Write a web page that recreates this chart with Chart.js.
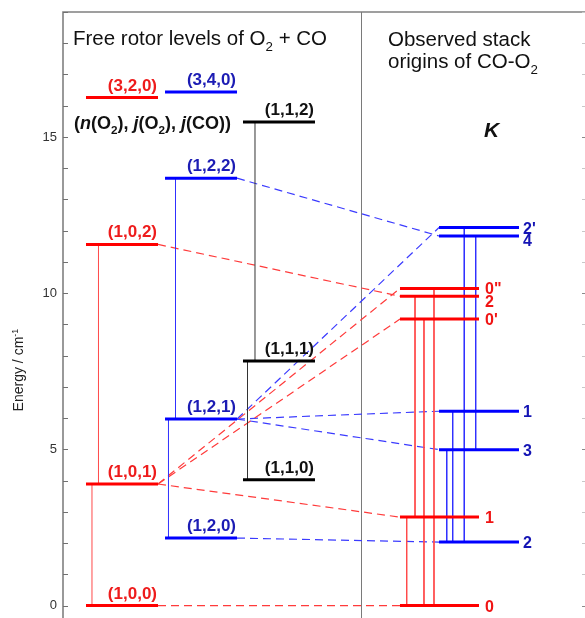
<!DOCTYPE html>
<html>
<head>
<meta charset="utf-8">
<script src="https://cdn.jsdelivr.net/npm/chart.js@4/dist/chart.umd.min.js"></script>
<style>
html, body { margin: 0; padding: 0; background: #fff; overflow: hidden; }
#wrap { width: 590px; height: 640px; }
</style>
</head>
<body>
<div id="wrap"><canvas id="chart" width="590" height="640"></canvas></div>
<script>
// free rotor levels (n(O2), j(O2), j(CO)), energies in cm-1
const redFreeLabels = ['(1,0,0)', '(1,0,1)', '(1,0,2)', '(3,2,0)'];
const redFreeEnergy = [0, 3.89, 11.56, 16.26];
const blueFreeLabels = ['(1,2,0)', '(1,2,1)', '(1,2,2)', '(3,4,0)'];
const blueFreeEnergy = [2.16, 5.97, 13.68, 16.44];
const blackFreeLabels = ['(1,1,0)', '(1,1,1)', '(1,1,2)'];
const blackFreeEnergy = [4.03, 7.83, 15.48];

// observed stack origins of CO-O2, labelled by K
const redStackLabels = ['0', '1', "0'", '2', '0"'];
const redStackEnergy = [0, 2.83, 9.17, 9.90, 10.15];
const blueStackLabels = ['2', '3', '1', '4', "2'"];
const blueStackEnergy = [2.03, 4.99, 6.22, 11.83, 12.10];

// thin vertical connections inside each column
const redFreeLinks = [['(1,0,0)', '(1,0,1)'], ['(1,0,1)', '(1,0,2)']];
const blueFreeLinks = [['(1,2,0)', '(1,2,1)'], ['(1,2,1)', '(1,2,2)']];
const blackFreeLinks = [['(1,1,0)', '(1,1,1)'], ['(1,1,1)', '(1,1,2)']];
const redStackLinks = [['1', '0'], ['2', '1'], ["0'", '0'], ['0"', '0']];
const blueStackLinks = [['3', '2'], ['1', '2'], ["2'", '2'], ['4', '3']];

// dashed correlations free rotor -> stack
const redCorrelations = [['(1,0,0)', '0'], ['(1,0,1)', '1'], ['(1,0,1)', "0'"], ['(1,0,1)', '0"'], ['(1,0,2)', '2']];
const blueCorrelations = [['(1,2,0)', '2'], ['(1,2,1)', '3'], ['(1,2,1)', '1'], ['(1,2,1)', "2'"], ['(1,2,2)', '4']];

// layout, x axis runs 0..100
const columnX = {
    redFree: [4.39, 18.13], blueFree: [19.47, 33.21], blackFree: [34.35, 48.09],
    redStack: [64.31, 79.39], blueStack: [71.76, 87.02]
};
const linkX = {
    redFree: [5.53, 6.77], blueFree: [20.13, 21.47], blackFree: [35.21, 36.64],
    redStack: [65.59, 67.18, 68.89, 70.80], blueStack: [73.23, 74.37, 76.58, 78.76]
};
const dividerX = 56.87;
const FONT = '"Liberation Sans", Arial, Helvetica, sans-serif';

const groups = [
    { key: 'redFree', labels: redFreeLabels, energy: redFreeEnergy, links: redFreeLinks, line: '#ff0000', thin: '#ff4a4a', text: '#ee1c1c', stack: false },
    { key: 'blueFree', labels: blueFreeLabels, energy: blueFreeEnergy, links: blueFreeLinks, line: '#0000ff', thin: '#3030ff', text: '#1c1cb4', stack: false },
    { key: 'blackFree', labels: blackFreeLabels, energy: blackFreeEnergy, links: blackFreeLinks, line: '#000000', thin: '#333333', text: '#111111', stack: false },
    { key: 'redStack', labels: redStackLabels, energy: redStackEnergy, links: redStackLinks, line: '#ff0000', thin: '#ff4a4a', text: '#f01414', stack: true, gap: 6 },
    { key: 'blueStack', labels: blueStackLabels, energy: blueStackEnergy, links: blueStackLinks, line: '#0000ff', thin: '#3030ff', text: '#1414b4', stack: true, gap: 4 }
];

function energyOf(g, label) {
    return g.energy[g.labels.indexOf(label)];
}

function seg(data, color, width, dash, order) {
    return {
        data: data, showLine: true, borderColor: color, borderWidth: width,
        borderDash: dash || [], pointRadius: 0, fill: false, tension: 0,
        borderCapStyle: 'butt', order: order
    };
}

let datasets = [];
for (let g of groups) {
    let [x0, x1] = columnX[g.key];
    g.energy.forEach(e => datasets.push(seg([{ x: x0, y: e }, { x: x1, y: e }], g.line, 3, null, 0)));
    g.links.forEach((l, i) => {
        let x = linkX[g.key][i];
        datasets.push(seg([{ x: x, y: energyOf(g, l[0]) }, { x: x, y: energyOf(g, l[1]) }], g.thin, 1, null, 1));
    });
}
function addCorrelations(list, from, to, color) {
    for (let c of list) {
        datasets.push(seg([
            { x: columnX[from.key][1], y: energyOf(from, c[0]) },
            { x: columnX[to.key][0], y: energyOf(to, c[1]) }
        ], color, 1.2, [8, 5], 1));
    }
}
addCorrelations(redCorrelations, groups[0], groups[3], '#ff3b3b');
addCorrelations(blueCorrelations, groups[1], groups[4], '#3b3bff');

function drawRich(ctx, parts, x, y, size, weight, color, measureOnly) {
    let start = x;
    ctx.fillStyle = color;
    for (let p of parts) {
        let s = (p.sub || p.sup) ? size * 0.65 : size;
        ctx.font = `${p.italic ? 'italic ' : ''}${weight} ${s}px ${FONT}`;
        let dy = p.sub ? size * 0.28 : (p.sup ? -size * 0.38 : 0);
        if (!measureOnly) ctx.fillText(p.t, x, y + dy);
        x += ctx.measureText(p.t).width;
    }
    return x - start;
}

const decorPlugin = {
    id: 'decor',
    beforeDatasetsDraw(chart) {
        const { ctx, chartArea: a, scales: { x, y } } = chart;
        ctx.save();
        // frame
        ctx.strokeStyle = '#808080';
        ctx.lineWidth = 1.6;
        ctx.beginPath();
        ctx.moveTo(a.left, a.bottom + 5);
        ctx.lineTo(a.left, a.top);
        ctx.lineTo(a.right, a.top);
        ctx.lineTo(a.right, a.bottom + 5);
        ctx.stroke();
        // divider
        ctx.lineWidth = 1;
        ctx.strokeStyle = '#7a7a7a';
        let dx = Math.round(x.getPixelForValue(dividerX)) + 0.5;
        ctx.beginPath();
        ctx.moveTo(dx, a.top);
        ctx.lineTo(dx, a.bottom + 5);
        ctx.stroke();
        // inward tick marks
        for (let v = Math.ceil(y.min); v <= Math.floor(y.max); v++) {
            let py = Math.round(y.getPixelForValue(v)) + 0.5;
            ctx.strokeStyle = '#707070';
            ctx.beginPath();
            ctx.moveTo(a.left, py);
            ctx.lineTo(a.left + 5, py);
            ctx.stroke();
            ctx.strokeStyle = v % 5 === 0 ? '#8a8a8a' : '#c8c8c8';
            ctx.beginPath();
            ctx.moveTo(a.right, py);
            ctx.lineTo(a.right - 5, py);
            ctx.stroke();
        }
        ctx.restore();
    },
    afterDatasetsDraw(chart) {
        const { ctx, scales: { x, y } } = chart;
        ctx.save();
        ctx.textBaseline = 'alphabetic';
        for (let g of groups) {
            let [x0, x1] = columnX[g.key];
            if (!g.stack) {
                ctx.font = `bold 17px ${FONT}`;
                ctx.fillStyle = g.text;
                ctx.textAlign = 'right';
                g.labels.forEach((lab, i) => {
                    ctx.fillText(lab, x.getPixelForValue(x1) - 1, y.getPixelForValue(g.energy[i]) - 7);
                });
            } else {
                ctx.font = `bold 16px ${FONT}`;
                ctx.fillStyle = g.text;
                ctx.textAlign = 'left';
                let items = g.labels.map((lab, i) => ({ lab, py: y.getPixelForValue(g.energy[i]) }));
                items.sort((a, b) => a.py - b.py);
                for (let i = 1; i < items.length; i++) {
                    if (items[i].py - items[i - 1].py < 12.5) items[i].py = items[i - 1].py + 12.5;
                }
                for (let it of items) {
                    ctx.fillText(it.lab, x.getPixelForValue(x1) + g.gap, it.py + 6);
                }
            }
        }
        ctx.textAlign = 'left';
        drawRich(ctx, [{ t: 'Free rotor levels of O' }, { t: '2', sub: true }, { t: ' + CO' }], 73, 45, 20.5, 'normal', '#111');
        drawRich(ctx, [{ t: 'Observed stack' }], 388, 46, 20.5, 'normal', '#111');
        drawRich(ctx, [{ t: 'origins of CO-O' }, { t: '2', sub: true }], 388, 68, 20.5, 'normal', '#111');
        drawRich(ctx, [{ t: 'K', italic: true }], 484, 137, 21, 'bold', '#111');
        drawRich(ctx, [
            { t: '(' }, { t: 'n', italic: true }, { t: '(O' }, { t: '2', sub: true }, { t: '), ' },
            { t: 'j', italic: true }, { t: '(O' }, { t: '2', sub: true }, { t: '), ' },
            { t: 'j', italic: true }, { t: '(CO))' }
        ], 74, 129, 18, 'bold', '#111');
        // y axis title
        let title = [{ t: 'Energy / cm' }, { t: '-1', sup: true }];
        ctx.translate(23, 370);
        ctx.rotate(-Math.PI / 2);
        let w = drawRich(ctx, title, 0, 0, 14, 'normal', '#222', true);
        drawRich(ctx, title, -w / 2, 0, 14, 'normal', '#222');
        ctx.restore();
    }
};

new Chart(document.getElementById('chart').getContext('2d'), {
    type: 'scatter',
    data: { datasets: datasets },
    options: {
        responsive: false,
        animation: false,
        devicePixelRatio: 1,
        events: [],
        layout: { padding: { top: 12, right: 3, bottom: 10.6, left: 0 } },
        plugins: { legend: { display: false }, tooltip: { enabled: false } },
        scales: {
            x: { type: 'linear', min: 0, max: 100, display: false },
            y: {
                type: 'linear', min: -0.745, max: 19,
                grid: { display: false, drawTicks: false },
                border: { display: false },
                ticks: {
                    stepSize: 1, autoSkip: false, padding: 6, color: '#333',
                    font: { size: 13, family: FONT, lineHeight: 0.8 },
                    callback: v => (Number.isInteger(v) && v % 5 === 0 ? v : '')
                },
                afterFit: s => { s.width = 63; }
            }
        }
    },
    plugins: [decorPlugin]
});
</script>
</body>
</html>
